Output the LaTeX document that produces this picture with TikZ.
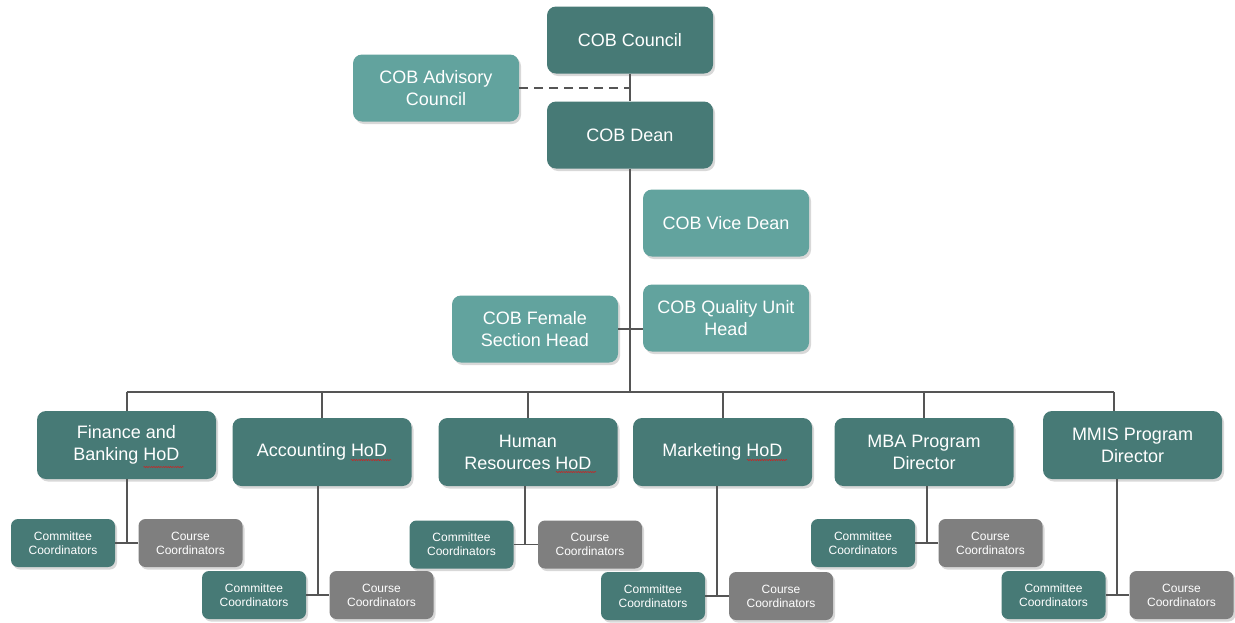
\documentclass[tikz,border=0pt]{standalone}
\usepackage{fontspec}
\setmainfont{Liberation Sans}
\usetikzlibrary{shadows,calc,decorations.pathmorphing}
\definecolor{deepteal}{HTML}{477A76}
\definecolor{paleteal}{HTML}{62A39E}
\definecolor{coordgray}{HTML}{7F7F7F}
\definecolor{linkgray}{HTML}{555555}
\definecolor{spellred}{HTML}{D02020}
\begin{document}
\begin{tikzpicture}[x=1pt,y=-1pt,
  card/.style={rounded corners=9pt, text=white, align=center, inner sep=0pt,
    drop shadow={shadow xshift=2pt,shadow yshift=-2.5pt,opacity=0.3}},
  lead/.style={card, fill=deepteal, minimum width=166pt, minimum height=67pt,
    font=\fontsize{18}{22}\selectfont},
  aide/.style={lead, fill=paleteal},
  dept/.style={card, fill=deepteal, minimum width=179pt, minimum height=68pt,
    font=\fontsize{18}{22}\selectfont},
  sub/.style={card, rounded corners=7pt, minimum width=104pt, minimum height=48pt,
    font=\fontsize{12}{14}\selectfont},
  cmte/.style={sub, fill=deepteal},
  crse/.style={sub, fill=coordgray},
  link/.style={draw=linkgray, line width=1.3pt},
  dotted link/.style={link, dash pattern=on 9pt off 6pt},
  spell/.style={draw=spellred, line width=0.5pt, decorate,
    decoration={snake, amplitude=0.6pt, segment length=2.4pt}}]

\fill[white] (0,0) rectangle (1235,622);
\useasboundingbox (0,0) rectangle (1235,622);

% leadership
\node[lead] (council) at (630,40) {COB Council};
\node[aide] (advisory) at (436,88) {COB Advisory\\Council};
\node[lead] (dean) at (630,135) {COB Dean};
\node[aide] (vice) at (726,223) {COB Vice Dean};
\node[aide] (quality) at (726,318) {COB Quality Unit\\Head};
\node[aide] (female) at (535,329) {COB Female\\Section Head};

% departments
\node[dept] (fin)  at (126.5,445) {Finance and\\Banking HoD};
\node[dept] (acc)  at (322,452)   {Accounting HoD};
\node[dept] (hr)   at (528,452)   {Human\\Resources HoD};
\node[dept] (mkt)  at (722.5,452) {Marketing HoD};
\node[dept] (mba)  at (924,452)   {MBA Program\\Director};
\node[dept] (mmis) at (1132.5,445) {MMIS Program\\Director};

% spell-check marks under "HoD"
\draw[spell] ($(fin.center)+(17,22)$) -- ++(40,0);
\draw[spell] ($(acc.center)+(29,8)$) -- ++(40,0);
\draw[spell] ($(hr.center)+(28,20)$) -- ++(40,0);
\draw[spell] ($(mkt.center)+(24.5,8)$) -- ++(40,0);

% coordinators
\node[cmte] (fincm) at (63,543)      {Committee\\Coordinators};
\node[crse] (fincr) at (190.5,543)   {Course\\Coordinators};
\node[cmte] (acccm) at (254,595)     {Committee\\Coordinators};
\node[crse] (acccr) at (381.5,595)   {Course\\Coordinators};
\node[cmte] (hrcm)  at (461.5,544.5) {Committee\\Coordinators};
\node[crse] (hrcr)  at (590,544.5)   {Course\\Coordinators};
\node[cmte] (mktcm) at (653,596)     {Committee\\Coordinators};
\node[crse] (mktcr) at (781,596)     {Course\\Coordinators};
\node[cmte] (mbacm) at (863,543)     {Committee\\Coordinators};
\node[crse] (mbacr) at (990.5,543)   {Course\\Coordinators};
\node[cmte] (mmiscm) at (1053.5,595) {Committee\\Coordinators};
\node[crse] (mmiscr) at (1181.5,595) {Course\\Coordinators};

% spine and bus
\coordinate (bus) at (630,392);
\draw[link] (council.south) -- (dean.north);
\draw[dotted link] (advisory.east) -- (advisory.east -| council.south);
\draw[link] (dean.south) -- (bus);
\draw[link] ($(vice.west)+(0,10)$) -- ($(vice.west)+(0,10)$ -| dean.south);
\draw[link] (female.east) -- (female.east -| quality.west);
\draw[link] (fin.north |- bus) -- ([xshift=-18.5pt]mmis.north |- bus);

% bus to departments
\draw[link] ([xshift=0.5pt]fin.north) -- ([xshift=0.5pt]fin.north |- bus);
\draw[link] (acc.north) -- (acc.north |- bus);
\draw[link] (hr.north) -- (hr.north |- bus);
\draw[link] ([xshift=0.5pt]mkt.north) -- ([xshift=0.5pt]mkt.north |- bus);
\draw[link] (mba.north) -- (mba.north |- bus);
\draw[link] ([xshift=-18.5pt]mmis.north) -- ([xshift=-18.5pt]mmis.north |- bus);

% departments to coordinators
\draw[link] ([xshift=0.5pt]fin.south) -- ([xshift=0.5pt]fin.south |- fincm.east);
\draw[link] (fincm.east) -- (fincr.west);
\draw[link] ([xshift=-4pt]acc.south) -- ([xshift=-4pt]acc.south |- acccm.east);
\draw[link] (acccm.east) -- (acccr.west);
\draw[link] ([xshift=-3pt]hr.south) -- ([xshift=-3pt]hr.south |- hrcm.east);
\draw[link] (hrcm.east) -- (hrcr.west);
\draw[link] ([xshift=-5.5pt]mkt.south) -- ([xshift=-5.5pt]mkt.south |- mktcm.east);
\draw[link] (mktcm.east) -- (mktcr.west);
\draw[link] ([xshift=3pt]mba.south) -- ([xshift=3pt]mba.south |- mbacm.east);
\draw[link] (mbacm.east) -- (mbacr.west);
\draw[link] ([xshift=-15.5pt]mmis.south) -- ([xshift=-15.5pt]mmis.south |- mmiscm.east);
\draw[link] (mmiscm.east) -- (mmiscr.west);
\end{tikzpicture}
\end{document}
